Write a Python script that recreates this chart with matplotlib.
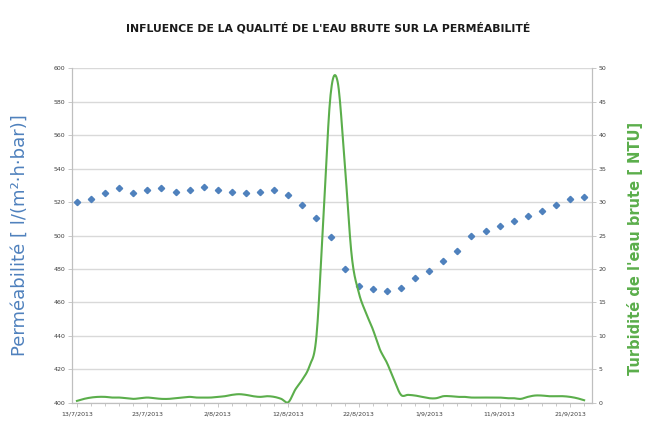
import matplotlib.pyplot as plt
import numpy as np

# permeability, one reading every 2 days from 13/7/2013
perm_days = np.arange(0, 73, 2)
permeabilite = [520.2, 521.8, 525.4, 528.4, 525.4, 527.2, 528.4, 526.0, 527.2, 529.0,
                527.2, 526.0, 525.4, 526.0, 527.2, 524.2, 518.2, 510.4, 499.1,
                479.8, 469.9, 467.9, 466.9, 468.8, 474.8, 478.8, 484.8, 490.7,
                499.7, 502.7, 505.8, 508.8, 511.8, 514.8, 518.0, 521.8, 523.2]

# raw water turbidity, daily
turb_days = np.arange(0, 73)
turbidite = [0.3, 0.6, 0.8, 0.9, 0.9, 0.8, 0.8, 0.7, 0.6, 0.7,
             0.8, 0.7, 0.6, 0.6, 0.7, 0.8, 0.9, 0.8, 0.8, 0.8,
             0.9, 1.0, 1.2, 1.3, 1.2, 1.0, 0.9, 1.0, 0.9, 0.6,
             0.1, 2.0, 3.5, 5.5, 10.0, 28.0, 46.0, 48.0, 36.0, 22.0,
             16.5, 13.5, 11.0, 8.0, 6.0, 3.5, 1.2, 1.2, 1.1, 0.9,
             0.7, 0.7, 1.0, 1.0, 0.9, 0.9, 0.8, 0.8, 0.8, 0.8,
             0.8, 0.7, 0.7, 0.6, 0.9, 1.1, 1.1, 1.0, 1.0, 1.0,
             0.9, 0.7, 0.4]

tick_days = [0, 10, 20, 30, 40, 50, 60, 70]
tick_labels = ['13/7/2013', '23/7/2013', '2/8/2013', '12/8/2013',
               '22/8/2013', '1/9/2013', '11/9/2013', '21/9/2013']

blue = '#4F81BD'
green = '#5BAE4B'
grid_c = '#D9D9D9'


def smooth(x, y, n=12):
    # catmull-rom drawing, like the "smoothed line" option in excel
    x = np.asarray(x, float)
    y = np.asarray(y, float)
    px = np.concatenate([[x[0]], x, [x[-1]]])
    py = np.concatenate([[y[0]], y, [y[-1]]])
    t = np.linspace(0, 1, n, endpoint=False)
    xs, ys = [], []
    for i in range(1, len(px) - 2):
        for p, out in ((px, xs), (py, ys)):
            p0, p1, p2, p3 = p[i - 1], p[i], p[i + 1], p[i + 2]
            out.append(0.5 * (2 * p1 + (-p0 + p2) * t
                              + (2 * p0 - 5 * p1 + 4 * p2 - p3) * t ** 2
                              + (-p0 + 3 * p1 - 3 * p2 + p3) * t ** 3))
    xs.append([x[-1]])
    ys.append([y[-1]])
    return np.concatenate(xs), np.concatenate(ys)


fig = plt.figure(figsize=(6.49, 4.21), dpi=100)
ax = fig.add_axes([0.111, 0.043, 0.801, 0.795])
ax2 = ax.twinx()

ax.set_ylim(400, 600)
ax.set_yticks(np.arange(400, 601, 20))
ax.set_xlim(-0.7, 73.1)
ax.yaxis.grid(True, color=grid_c, linewidth=1)
ax.set_axisbelow(True)
ax.plot(perm_days, permeabilite, linestyle='none', marker='D', markersize=3.2,
        color=blue, zorder=3)

ax2.set_ylim(0, 50)
ax2.set_yticks(np.arange(0, 51, 5))
sx, sy = smooth(turb_days, turbidite)
ax2.plot(sx, sy, color=green, linewidth=1.5, solid_joinstyle='round')

ax.set_xticks(tick_days)
ax.set_xticklabels(tick_labels)
ax.set_xticks(perm_days, minor=True)

for a in (ax, ax2):
    a.spines['top'].set_visible(False)
    for s in ('left', 'right', 'bottom'):
        a.spines[s].set_color('#BFBFBF')
        a.spines[s].set_linewidth(0.8)
    a.tick_params(axis='both', which='both', labelsize=4.5, colors='#BFBFBF',
                  labelcolor='#404040', length=3, width=0.6, pad=2)
ax.tick_params(axis='x', which='minor', length=2)
ax.tick_params(axis='x', pad=3)

ax.set_ylabel('Perméabilité [ l/(m²·h·bar)]', color=blue, fontsize=13)
ax.yaxis.set_label_coords(-0.083, 0.5)
ax2.set_ylabel("Turbidité de l'eau brute [ NTU]", color=green, fontsize=10.5,
               fontweight='bold')
ax2.yaxis.set_label_coords(1.068, 0.46)

fig.text(0.505, 0.935, "INFLUENCE DE LA QUALITÉ DE L'EAU BRUTE SUR LA PERMÉABILITÉ",
         ha='center', va='center', fontsize=7.8, fontweight='bold', color='#1A1A1A')

fig.savefig('out.png', dpi=100)
